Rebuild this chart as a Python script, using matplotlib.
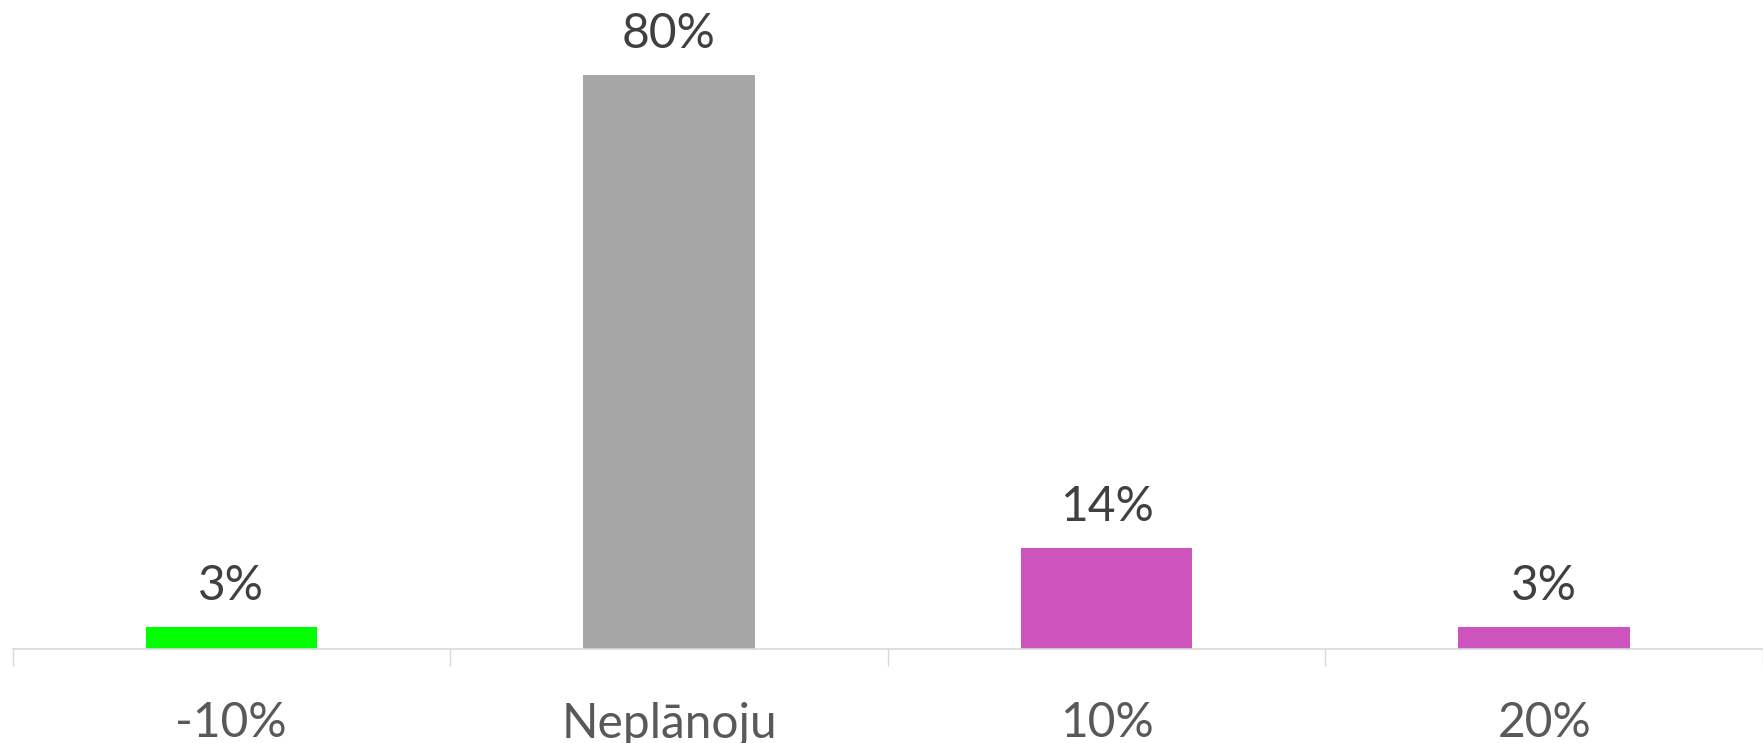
import matplotlib
matplotlib.use("Agg")
import matplotlib.pyplot as plt
from matplotlib.ticker import FixedLocator

categories = ["-10%", "Neplānoju", "10%", "20%"]
values = [3, 80, 14, 3]
labels = ["3%", "80%", "14%", "3%"]
colors = ["#00FF00", "#A6A6A6", "#CC54BC", "#CC54BC"]

plt.rcParams['font.family'] = ['Lato', 'DejaVu Sans']

fig = plt.figure(figsize=(17.63, 7.43), dpi=100)
ax = fig.add_axes([12.5 / 1763, 94.3 / 743, 1 - 12.5 / 1763, 648.7 / 743])

x = list(range(len(categories)))
bars = ax.bar(x, values, width=0.392, color=colors)
for xi, v, lab in zip(x, values, labels):
    ax.annotate(lab, (xi, v), xytext=(0, 14), textcoords="offset points",
                ha="center", va="bottom", fontsize=34.5, color="#404040")

ax.set_xlim(-0.5, len(categories) - 0.5)
ax.set_ylim(0, 90.5)
for s in ["top", "right", "left"]:
    ax.spines[s].set_visible(False)
ax.spines["bottom"].set_color("#D9D9D9")
ax.spines["bottom"].set_linewidth(1.2)
ax.set_yticks([])
ax.set_xticks(x)
ax.set_xticklabels(categories, fontsize=34.5, color="#595959")
ax.tick_params(axis="x", which="major", length=0, pad=38)
ax.xaxis.set_minor_locator(FixedLocator([i - 0.5 for i in range(len(categories) + 1)]))
ax.tick_params(axis="x", which="minor", length=12.5, width=1.0, color="#D9D9D9")

fig.savefig("out.png", dpi=100)
